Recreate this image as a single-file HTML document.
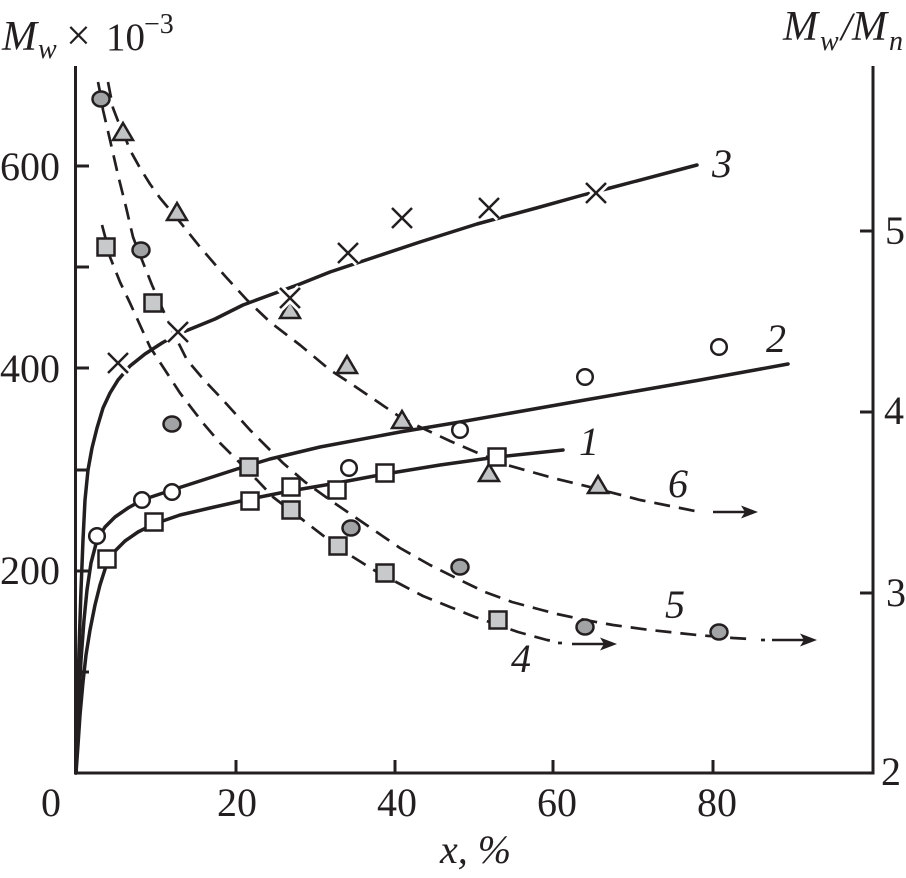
<!DOCTYPE html>
<html>
<head>
<meta charset="utf-8">
<style>
html,body{margin:0;padding:0;background:#fff;}
svg{display:block;}
text{font-family:"Liberation Serif",serif;fill:#231f20;}
.it{font-style:italic;}
</style>
</head>
<body>
<svg width="906" height="878" viewBox="0 0 906 878" xmlns="http://www.w3.org/2000/svg" font-family="Liberation Serif, serif">
<rect width="906" height="878" fill="#fff"/>

<!-- Axes -->
<g stroke="#231f20" stroke-width="3" fill="none">
  <path d="M75.5,66 L75.5,773 L873,773 L873,66"/>
  <path d="M75,672 H89 M75,571 H89 M75,470 H89 M75,368 H89 M75,267 H89 M75,166 H89"/>
  <path d="M236,773 V760 M395,773 V760 M553,773 V760 M713,773 V760"/>
  <path d="M873,593 H860 M873,412 H860 M873,231 H860"/>
</g>

<!-- Axis tick labels -->
<g font-size="40">
  <text x="60" y="180" text-anchor="end">600</text>
  <text x="60" y="382" text-anchor="end">400</text>
  <text x="60" y="584" text-anchor="end">200</text>
  <text x="51" y="816" text-anchor="middle">0</text>
  <text x="237" y="816" text-anchor="middle">20</text>
  <text x="397" y="816" text-anchor="middle">40</text>
  <text x="557" y="816" text-anchor="middle">60</text>
  <text x="717" y="816" text-anchor="middle">80</text>
  <text x="885" y="244">5</text>
  <text x="884" y="424">4</text>
  <text x="886" y="606">3</text>
  <text x="881" y="785">2</text>
</g>

<!-- Axis titles -->
<text class="it" x="2" y="50" font-size="42">M</text>
<text class="it" x="38" y="58" font-size="28">w</text>
<text x="66" y="50" font-size="44">×</text>
<text x="106" y="50" font-size="39">10</text>
<text x="144" y="33" font-size="28">−3</text>

<text class="it" x="783" y="40" font-size="42">M</text>
<text class="it" x="820" y="50" font-size="28">w</text>
<text class="it" x="841" y="40" font-size="40">/</text>
<text class="it" x="852" y="40" font-size="42">M</text>
<text class="it" x="889" y="50" font-size="28">n</text>

<text class="it" x="440" y="863" font-size="40">x, %</text>

<!-- Solid curves -->
<g stroke="#231f20" stroke-width="3.5" fill="none" stroke-linejoin="round" stroke-linecap="round">
  <path d="M76,773 L78,745 L80,715 L83,682 L86,655 L90,630 L95,605 L100,585 L107,563 L115,551 L125,541 L138,532 L154,524 L180,515 L210,508 L250,499 L290,491 L337,483 L385,474 L440,465 L497,457 L563,450"/>
  <path d="M76,773 L77,740 L79,700 L81,660 L84,620 L87,590 L91,563 L97,540 L105,527 L115,517 L128,508 L142,500 L157,495 L172,490 L203,480 L237,469 L270,459 L320,447 L400,432 L460,422 L585,400 L700,380 L788,364"/>
  <path d="M76,773 L77,735 L78,690 L79,650 L81,590 L83,540 L85,500 L88,470 L92,448 L97,428 L103,408 L110,393 L118,380 L130,366 L145,354 L162,343 L178,334 L193,328 L215,319 L243,305 L270,295 L300,284 L330,272 L363,261 L420,242 L477,224 L540,207 L583,195 L610,188 L697,165"/>
</g>

<!-- Dashed curves -->
<g stroke="#231f20" stroke-width="2.7" fill="none" stroke-linejoin="round" stroke-dasharray="16 9">
  <path d="M102,225 L106,240 L110,257 L120,282 L130,303 L140,325 L150,347 L165,370 L180,393 L203,423 L220,443 L237,460 L257,480 L273,497 L291,511 L303,520 L330,541 L353,557 L377,572 L400,584 L423,596 L450,607 L475,617 L498,625 L518,632 L547,640 L553,641"/>
  <path d="M98,82 L101,97 L103,110 L110,140 L118,175 L126,207 L133,237 L138,250 L142,260 L152,285 L163,310 L175,336 L187,360 L205,381 L223,400 L250,430 L283,463 L305,482 L330,500 L365,524 L400,548 L430,565 L460,580 L485,592 L512,602 L538,609 L557,614 L585,620 L613,625 L650,630 L697,635 L733,638 L750,639"/>
  <path d="M108,82 L113,108 L118,121 L123,132 L130,150 L140,168 L150,184 L160,198 L170,210 L180,222 L200,247 L225,276 L247,300 L270,322 L300,345 L330,370 L347,381 L375,400 L400,417 L420,427 L450,441 L487,457 L507,465 L553,478 L598,489 L640,500 L670,506 L700,512"/>
</g>
<g stroke="#231f20" stroke-width="2.7" fill="none">
  <path d="M558,643 L562,643"/>
  <path d="M761,640 L765,640"/>
</g>

<!-- Arrows -->
<g stroke="#231f20" stroke-width="2.5" fill="none">
  <path d="M572,644 L604,644"/>
  <path d="M772,640 L804,640"/>
  <path d="M713,512 L745,512"/>
</g>
<g fill="#231f20">
  <polygon points="617,644 600,637.5 604,644 600,650.5"/>
  <polygon points="817,640 800,633.5 804,640 800,646.5"/>
  <polygon points="758,512 741,505.5 745,512 741,518.5"/>
</g>

<!-- Triangles -->
<g fill="#c2c3c5" stroke="#231f20" stroke-width="2.5">
  <polygon points="113,140 133,140 123,123"/>
  <polygon points="167,220 187,220 177,203"/>
  <polygon points="280,318 300,318 290,301"/>
  <polygon points="337,373 357,373 347,356"/>
  <polygon points="392,428 412,428 402,411"/>
  <polygon points="479,481 499,481 489,464"/>
  <polygon points="588,493 608,493 598,476"/>
</g>

<!-- Gray squares -->
<g fill="#c8c9cb" stroke="#231f20" stroke-width="2.5">
  <rect x="97.5" y="238.5" width="17" height="17"/>
  <rect x="144.5" y="294.5" width="17" height="17"/>
  <rect x="240.5" y="458.5" width="17" height="17"/>
  <rect x="282.5" y="501.5" width="17" height="17"/>
  <rect x="329.5" y="537.5" width="17" height="17"/>
  <rect x="376.5" y="564.5" width="17" height="17"/>
  <rect x="489.5" y="611.5" width="17" height="17"/>
</g>

<!-- Open squares -->
<g fill="#fff" stroke="#231f20" stroke-width="2.5">
  <rect x="98.5" y="550.5" width="17" height="17"/>
  <rect x="145.5" y="513.5" width="17" height="17"/>
  <rect x="241.5" y="492.5" width="17" height="17"/>
  <rect x="282.5" y="478.5" width="17" height="17"/>
  <rect x="328.5" y="481.5" width="17" height="17"/>
  <rect x="376.5" y="464.5" width="17" height="17"/>
  <rect x="488.5" y="448.5" width="17" height="17"/>
</g>

<!-- Gray circles -->
<g fill="#a2a3a5" stroke="#231f20" stroke-width="2.5">
  <ellipse cx="101" cy="99" rx="8.5" ry="7.5"/>
  <ellipse cx="141" cy="250" rx="8.5" ry="7.5"/>
  <ellipse cx="172" cy="424" rx="8.5" ry="7.5"/>
  <ellipse cx="351" cy="528" rx="8.5" ry="7.5"/>
  <ellipse cx="460" cy="567" rx="8.5" ry="7.5"/>
  <ellipse cx="585" cy="627" rx="8.5" ry="7.5"/>
  <ellipse cx="719" cy="632" rx="8.5" ry="7.5"/>
</g>

<!-- Open circles -->
<g fill="#fff" stroke="#231f20" stroke-width="2.5">
  <circle cx="97" cy="536" r="7.8"/>
  <circle cx="142" cy="500" r="7.8"/>
  <circle cx="172" cy="492" r="7.8"/>
  <circle cx="349" cy="468" r="7.8"/>
  <circle cx="460" cy="430" r="7.8"/>
  <circle cx="585" cy="377" r="7.8"/>
  <circle cx="719" cy="347" r="7.8"/>
</g>

<!-- X markers -->
<g stroke="#fff" stroke-width="8" fill="none">
  <path d="M108,353 L128,373 M128,353 L108,373"/>
  <path d="M168,322 L188,342 M188,322 L168,342"/>
  <path d="M280,288 L300,308 M300,288 L280,308"/>
  <path d="M338,243 L358,263 M358,243 L338,263"/>
  <path d="M392,208 L412,228 M412,208 L392,228"/>
  <path d="M479,198 L499,218 M499,198 L479,218"/>
  <path d="M586,183 L606,203 M606,183 L586,203"/>
</g>
<g stroke="#231f20" stroke-width="2.5" fill="none">
  <path d="M108,353 L128,373 M128,353 L108,373"/>
  <path d="M168,322 L188,342 M188,322 L168,342"/>
  <path d="M280,288 L300,308 M300,288 L280,308"/>
  <path d="M338,243 L358,263 M358,243 L338,263"/>
  <path d="M392,208 L412,228 M412,208 L392,228"/>
  <path d="M479,198 L499,218 M499,198 L479,218"/>
  <path d="M586,183 L606,203 M606,183 L586,203"/>
</g>

<!-- Curve labels -->
<g font-size="40">
  <text class="it" x="712" y="177">3</text>
  <text class="it" x="766" y="352">2</text>
  <text class="it" x="579" y="455">1</text>
  <text class="it" x="668" y="497">6</text>
  <text class="it" x="665" y="618">5</text>
  <text class="it" x="511" y="672">4</text>
</g>
</svg>
</body>
</html>
